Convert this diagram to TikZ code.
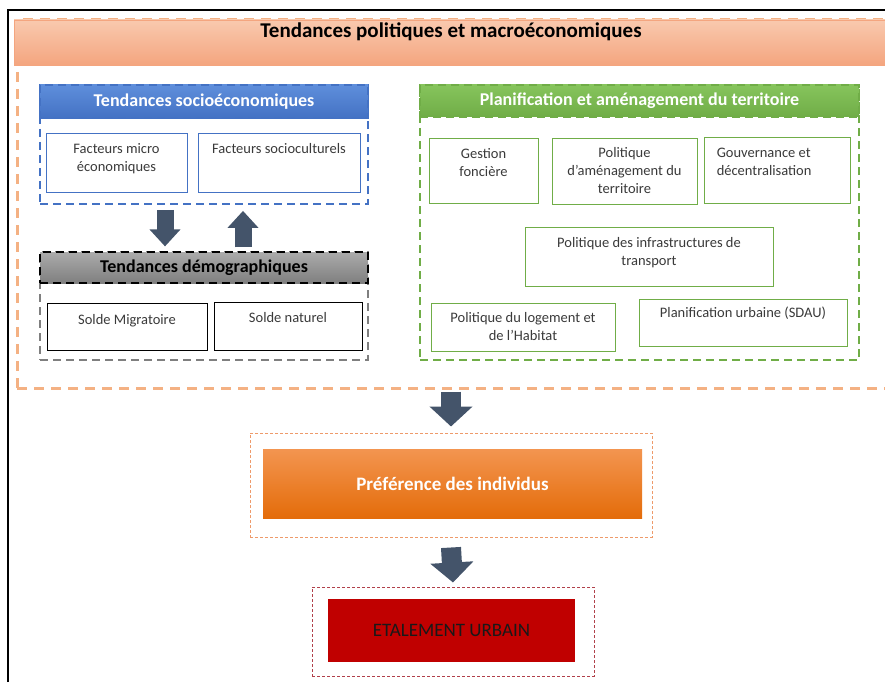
\documentclass[tikz,border=0pt]{standalone}
\usepackage{fontspec}
\setmainfont{Carlito}
\usetikzlibrary{arrows.meta,positioning,calc}
\definecolor{BannerTop}{HTML}{F9C9AE}
\definecolor{BannerBot}{HTML}{F4A57F}
\definecolor{MacroDash}{HTML}{F4B183}
\definecolor{SocBlue}{HTML}{4472C4}
\definecolor{SocBlueTop}{HTML}{5E8EDB}
\definecolor{PlanGreen}{HTML}{70AD47}
\definecolor{PlanGreenTop}{HTML}{86C45C}
\definecolor{DemGray}{HTML}{7F7F7F}
\definecolor{DemGrayTop}{HTML}{ABABAB}
\definecolor{ArrowSlate}{HTML}{44546A}
\definecolor{PrefTop}{HTML}{F39550}
\definecolor{PrefBot}{HTML}{E46C0A}
\definecolor{PrefDash}{HTML}{EE9A6A}
\definecolor{EtalRed}{HTML}{C00000}
\definecolor{EtalDash}{HTML}{B0404A}
\definecolor{LeafText}{HTML}{3A3A3A}

\begin{document}
\begin{tikzpicture}[x=1pt,y=-1pt]
    \tikzset{grp/.style={draw=#1,line width=1.8pt,dash pattern=on 8pt off 5pt,inner sep=0pt},
      head/.style={draw=#1,line width=1.2pt,dash pattern=on 8pt off 5pt,inner sep=0pt,
        font=\fontsize{18}{20}\selectfont\bfseries},
      leaf/.style={draw=#1,fill=white,line width=0.9pt,inner sep=0pt,align=center,
        text=LeafText,font=\fontsize{14.5}{18}\selectfont},
      lbl/.style={anchor=north,inner sep=0pt,align=center,text=LeafText,font=\fontsize{14.5}{18}\selectfont},
      smallarrow/.style={draw=ArrowSlate,line width=17pt,-{Triangle[width=30pt,length=17pt]}},
      bigarrow/.style={draw=ArrowSlate,line width=20pt,-{Triangle[width=42pt,length=20pt]}}}
    \useasboundingbox (0,0) rectangle (885,682);
    \draw[line width=1.6pt] (8,682) -- (8,10) -- (892,10);
    % tendances politiques et macro
    \node[grp=MacroDash,line width=3pt,dash pattern=on 10pt off 7pt,minimum width=878,minimum height=368] (macro) at (456,204) {};
    \node[draw=BannerBot,top color=BannerTop,bottom color=BannerBot,minimum width=880,minimum height=45,inner sep=0pt] (banner) at (454,42.5) {};
    \node[font=\fontsize{21}{24}\selectfont\bfseries] (title) at (451,32) {Tendances politiques et macroéconomiques};
    % socio
    \node[grp=SocBlue,minimum width=328,minimum height=119] (socgrp) at (204,144.5) {};
    \node[head=SocBlue,top color=SocBlueTop,bottom color=SocBlue,text=white,minimum width=328,minimum height=33] (sochead) at (204,101.5) {Tendances socioéconomiques};
    \node[leaf=SocBlue,minimum width=141,minimum height=59] (micro) at (116.5,162.5) {};
    \node[lbl] at ($(micro.north)+(0,11)$) {Facteurs micro\\économiques};
    \node[leaf=SocBlue,minimum width=162,minimum height=59] (socio) at (279,162.5) {};
    \node[lbl] at ($(socio.north)+(0,11)$) {Facteurs socioculturels};
    % demo
    \node[grp=DemGray,minimum width=328,minimum height=108] (demgrp) at (204,306) {};
    \node[head=black,top color=DemGrayTop,bottom color=DemGray,minimum width=328,minimum height=31] (demhead) at (204,267.5) {Tendances démographiques};
    \node[leaf=black,minimum width=160,minimum height=47] (migr) at (127,326.5) {};
    \node[lbl] at ($(migr.north)+(0,12)$) {Solde Migratoire};
    \node[leaf=black,minimum width=148,minimum height=48] (nat) at (288,326) {};
    \node[lbl] at ($(nat.north)+(0,11)$) {Solde naturel};
    \draw[smallarrow] ($(socgrp.south)+(-39,5)$) -- ($(demhead.north)+(-39,-5)$);
    \draw[smallarrow] ($(demhead.north)+(39,-4)$) -- ($(socgrp.south)+(39,6)$);
    % planification
    \node[grp=PlanGreen,minimum width=439,minimum height=275] (plangrp) at (639.5,222.5) {};
    \node[head=PlanGreen,top color=PlanGreenTop,bottom color=PlanGreen,text=white,minimum width=439,minimum height=32] (planhead) at (639.5,101) {Planification et aménagement du territoire};
    \node[leaf=PlanGreen,minimum width=109,minimum height=65] (fonc) at (483.5,170.5) {};
    \node[lbl] at ($(fonc.north)+(0,11)$) {Gestion\\foncière};
    \node[leaf=PlanGreen,minimum width=145,minimum height=66] (amen) at (624.5,171) {Politique\\d’aménagement du\\territoire};
    \node[leaf=PlanGreen,minimum width=146,minimum height=66] (gouv) at (777,170) {};
    \node[lbl,anchor=north west,align=left] at ($(gouv.north west)+(13,11)$) {Gouvernance et\\décentralisation};
    \node[leaf=PlanGreen,minimum width=248,minimum height=59] (infra) at (649,256.5) {};
    \node[lbl] at ($(infra.north)+(0,11)$) {Politique des infrastructures de\\transport};
    \node[leaf=PlanGreen,minimum width=184,minimum height=48] (loge) at (523,327) {Politique du logement et\\de l’Habitat};
    \node[leaf=PlanGreen,minimum width=208,minimum height=47] (sdau) at (743,322.5) {};
    \node[lbl] at ($(sdau.north)+(0,8)$) {Planification urbaine (SDAU)};
    % preference et etalement
    \node[grp=PrefDash,line width=1pt,dash pattern=on 3pt off 2pt,minimum width=402,minimum height=104] (prefgrp) at (451,485) {};
    \node[top color=PrefTop,bottom color=PrefBot,text=white,font=\fontsize{19}{22}\selectfont\bfseries,minimum width=379,minimum height=69,inner sep=0pt] (pref) at (452.5,483.5) {Préférence des individus};
    \node[grp=EtalDash,line width=1pt,dash pattern=on 3pt off 2pt,minimum width=282,minimum height=89] (etalgrp) at (453,631.5) {};
    \node[fill=EtalRed,text=black!90,font=\fontsize{19}{22}\selectfont,minimum width=247,minimum height=63,inner sep=0pt] (etal) at (451.5,630.5) {ETALEMENT URBAIN};
    \draw[bigarrow] ($(macro.south -| prefgrp.north)+(0,2)$) -- ($(prefgrp.north)+(0,-6)$);
    \draw[bigarrow] ($(prefgrp.south)+(0,10)$) -- ($(etalgrp.north)+(0,-4)$);
  \end{tikzpicture}
\end{document}
